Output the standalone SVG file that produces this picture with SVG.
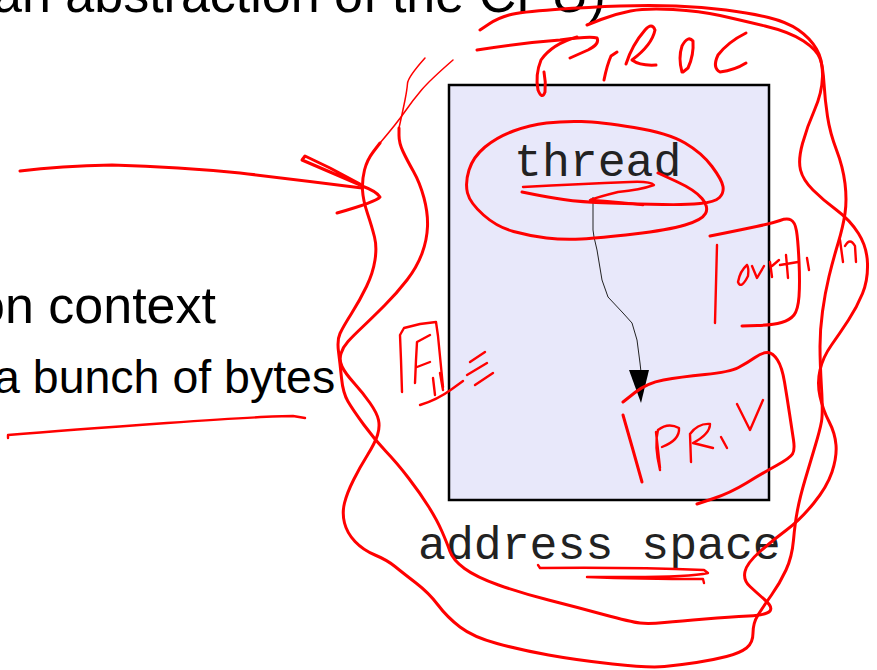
<svg xmlns="http://www.w3.org/2000/svg" width="877" height="670" viewBox="0 0 877 670">
<style>
.sans{font-family:"Liberation Sans",Arial,sans-serif;fill:#000}
.mono{font-family:"Liberation Mono","Courier New",monospace;fill:#222;font-size:46.5px}
.ink{fill:none;stroke:#ff0000;stroke-width:3;stroke-linecap:round;stroke-linejoin:round}
.thin{fill:none;stroke:#ff0000;stroke-width:1.5;stroke-linecap:round;stroke-linejoin:round}
.hand{fill:none;stroke:#ff0000;stroke-width:2.4;stroke-linecap:round;stroke-linejoin:round}
</style>
<rect width="877" height="670" fill="#fff"/>
<g id="slide-text">
<text class="sans" x="-7" y="12" font-size="52">an abstraction of the CPU)</text>
<text class="sans" x="-24" y="323" font-size="52">on context</text>
<text class="sans" x="-6" y="393" font-size="46.5">a bunch of bytes</text>
</g>
<g id="address-space">
<rect x="449" y="85" width="320" height="415" fill="#e8e8fa" stroke="#000" stroke-width="2.5"/>
<text class="mono" x="418" y="559">address space</text>
</g>
<g id="thread">
<text class="mono" x="514" y="176">thread</text>
</g>
<g id="connectors">
<path d="M593,197 L593,230 L594,237 L597,250 L602,280 L608,297 L623,313 L632,323 L637,340 L640,363 L641,372" fill="none" stroke="#222" stroke-width="1"/>
<polygon points="629,370 649,370 641,403" fill="#000"/>
</g>
<g id="annotations">
<!-- left arrow -->
<path class="ink" d="M20,171 Q60,166 112,165 Q180,167 240,173 Q300,180 362,188"/>
<path class="ink" d="M360,184 L330,168 L305,156 L302,160 L330,172 L362,186 Q376,191 380,197 Q376,202 337,213"/>
<!-- outer PROC outline stroke 1 -->
<path class="ink" d="M480,30 L489,24 Q498,18 509,15 Q520,12 555,9.5 Q590,7 620,6 Q650,5 676,6 Q702,7 726,10 Q750,13 768.5,17.5 Q787,22 798.5,30 Q810,38 816.5,49 Q823,60 822.5,76.5 Q822,93 814.5,110 Q807,127 802.5,143.5 Q798,160 800.5,170 Q803,180 813,190 Q823,200 836.5,210 Q850,220 858.5,233.5 Q867,247 867.5,263.5 Q868,280 862.5,293.5 Q857,307 848.5,320 Q840,333 831.5,345 Q823,357 820,370 Q817,383 820,396.5 Q823,410 829,421.5 Q835,433 836,445 Q837,457 832,472 Q827,487 813.5,503.5 Q800,520 786.5,530 Q773,540 760,551.5 Q747,563 745,571.5 Q743,580 750,586.5 Q757,593 765,600 Q773,607 770,611 Q767,615 748.5,616 Q730,617 705,619 Q680,621 664.5,622.5 Q649,624 640,623 Q631,622 603.5,614.5 Q576,607 548.5,600 Q521,593 498.5,585 Q476,577 464.5,568.5 Q453,560 450,551.5 Q447,543 442,531.5 Q437,520 428.5,506.5 Q420,493 408.5,478 Q397,463 386,451.5 Q375,440 364,425 Q353,410 348,401.5 Q343,393 341.5,378 Q340,363 338.5,351.5 Q337,340 340,333.5 Q343,327 351.5,313.5 Q360,300 366.5,286.5 Q373,273 375,260 Q377,247 374.5,237 Q372,227 367.5,213.5 Q363,200 362.5,190 Q362,180 364.5,170 Q367,160 373.5,151.5 L380,143"/>
<path class="thin" d="M380,143 Q397,123 405,111.5 Q413,100 421.5,90 Q430,80 453,60"/>
<!-- outer PROC outline stroke 2 -->
<path class="ink" d="M587,25 L601,19.5 Q615,14 630.5,11 Q646,8 673,9.5 Q700,11 720,15.5 Q740,20 765,26 Q790,32 803.5,41 Q817,50 820,58.5 Q823,67 824,83.5 Q825,100 827.5,116.5 Q830,133 836.5,150 Q843,167 845,183.5 Q847,200 845,213.5 Q843,227 838,243.5 Q833,260 829,276.5 Q825,293 822.5,311.5 Q820,330 820,346.5 Q820,363 821.5,388 Q823,413 821.5,421.5 Q820,430 815,446.5 Q810,463 805,480 Q800,497 797.5,510 Q795,523 793.5,540 Q792,557 786,570 Q780,583 771.5,595 Q763,607 758,615 Q753,623 753,633 Q753,643 746.5,648 Q740,653 726.5,656.5 Q713,660 696.5,662.5 Q680,665 664.5,666.5 Q649,668 612.5,664 Q576,660 548.5,655 Q521,650 497,643.5 Q473,637 460,627 Q447,617 438,605 Q429,593 416,583 Q403,573 395,566.5 Q387,560 375,555 Q363,550 355,541.5 Q347,533 344.5,523 Q342,513 344.5,503 Q347,493 353.5,480 Q360,467 367.5,455 Q375,443 377.5,435 Q380,427 378.5,420 Q377,413 370,403 Q363,393 354,383 Q345,373 342,366.5 Q339,360 341,353.5 Q343,347 348,341.5 Q353,336 362.5,327 Q372,318 384.5,305.5 Q397,293 407,280 Q417,267 422,253.5 Q427,240 427.5,226.5 Q428,213 424,198 Q420,183 413.5,171.5 Q407,160 403,151.5 Q399,143 399,135.5 L399,128"/>
<path class="thin" d="M399,128 Q403,110 405,100 Q407,90 407.5,83.5 Q408,77 425,58"/>
<!-- PROC letters -->
<path class="ink" d="M477,50 Q520,43 560,40 Q590,36 597,38 Q600,44 588,50 L570,58"/>
<path class="ink" d="M577,37 Q552,44 541,60 Q535,75 538,90 Q542,100 545,92 Q546,82 544,72"/>
<path class="ink" d="M604,80 Q607,65 611,56 L617,52"/>
<path class="ink" d="M626,64 Q632,45 645,30 Q652,22 655,30 Q652,45 632,60 Q640,66 656,65"/>
<path class="ink" d="M682,72 Q678,58 682,46 Q688,35 693,41 Q694,55 688,68 L683,72"/>
<path class="ink" d="M746,33 Q728,42 718,55 Q712,68 720,72 Q735,70 746,63"/>
<!-- thread ellipse and underline scribble -->
<path class="ink" d="M658,173 L676.5,181.5 Q695,190 702,198.5 Q709,207 705.5,213.5 Q702,220 685,225 Q668,230 634,234 Q600,238 581.5,239 Q563,240 546.5,238 Q530,236 513.5,231.5 Q497,227 483.5,215 Q470,203 467.5,193 Q465,183 469,170 Q473,157 485,147 Q497,137 513.5,131 Q530,125 546.5,123 Q563,121 581.5,121.5 Q600,122 634,127.5 Q668,133 685,143 Q702,153 712,166.5 Q722,180 723,186.5 Q724,193 719.5,197.5 Q715,202 700,203.5 Q685,205 662.5,204.5 Q640,204 610,203 Q580,202 563.5,199.5 Q547,197 534.5,194.5 L522,192"/>
<path class="hand" d="M523,187 Q580,184 630,182 Q650,181 654,185 Q640,190 618,192 Q598,197 590,200 Q620,202 643,205"/>
<!-- ovhd box -->
<path class="hand" d="M717,245 Q716,285 715,323"/>
<path class="ink" d="M710,236 L725,233 Q740,230 756.5,226.5 Q773,223 780,220.5 Q787,218 791,220 Q795,222 796.5,231 Q798,240 799,261.5 Q800,283 799,296.5 Q798,310 794,315 Q790,320 781.5,322.5 Q773,325 757.5,325.5 L742,326"/>
<path class="hand" d="M747,265 Q740,271 738,282 Q741,290 748,276 Q749,268 747,265"/>
<path class="hand" d="M752,266 L757,278 L764,266"/>
<path class="hand" d="M770,262 L772,277 M772,266 L779,260"/>
<path class="hand" d="M786,255 L788,278 M780,265 L798,262"/>
<path class="hand" d="M807,258 L809,270 M840,240 L843,262 M845,246 Q850,237 855,246 L856,262"/>
<!-- PRIV box -->
<path class="ink" d="M623,402 L635,392.5 Q647,383 663.5,380 Q680,377 705,374.5 Q730,372 738.5,367.5 Q747,363 755,357.5 Q763,352 768,352.5 Q773,353 777.5,360 Q782,367 784.5,382 Q787,397 789.5,413.5 Q792,430 793.5,440 Q795,450 792.5,454 Q790,458 776.5,465.5 Q763,473 746.5,483 Q730,493 713.5,498.5 L697,504"/>
<path class="ink" d="M623,415 L633,450 L642,482"/>
<path class="hand" d="M656,432 L660,468 M660,470 Q654,445 658,430 Q668,422 679,428 Q680,440 662,447"/>
<path class="hand" d="M691,462 L690,434 Q698,423 710,424 Q710,434 693,443 L713,448"/>
<path class="hand" d="M721,437 L727,448"/>
<path class="hand" d="M737,404 L750,430 L763,400"/>
<!-- FILE -->
<path class="hand" d="M402,392 L401,360 L400,335 L404,328 L420,324 L436,322 L438,336 L443,387"/>
<path class="hand" d="M420,405 Q437,400 452,389 L463,381"/>
<path class="hand" d="M415,383 L416,360 L417,342 L430,335 M417,367 L430,362"/>
<path class="hand" d="M433,378 L435,395 M440,373 L443,390"/>
<path class="hand" d="M470,362 L485,352 M467,375 L487,363 M475,385 L493,373"/>
<!-- underlines -->
<path class="hand" d="M8,438 L8,435 Q67,430 167,423 Q267,416 293,416 L305,418"/>
<path class="hand" stroke-width="2" d="M538,565 L540,568 Q630,567 704,570 L708,573 Q690,577 631,577 L587,577 Q640,579 703,579 L704,583"/>
</g>
</svg>
